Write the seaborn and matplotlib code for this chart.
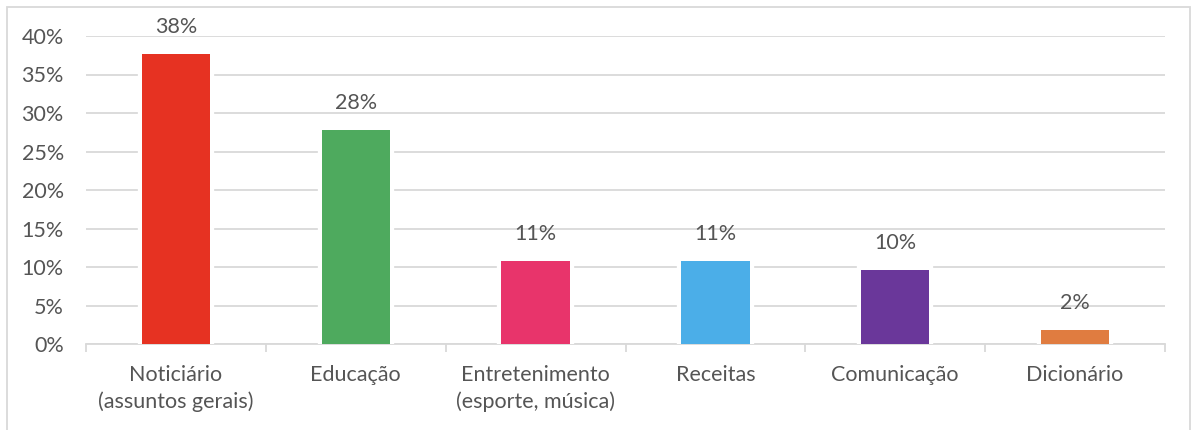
import matplotlib
matplotlib.use("Agg")
import matplotlib.pyplot as plt
import matplotlib.patheffects as pe
from matplotlib.patches import Rectangle
from matplotlib.ticker import FixedLocator, MultipleLocator
import seaborn as sns
import pandas as pd

categories = ["Noticiário\n(assuntos gerais)", "Educação", "Entretenimento\n(esporte, música)",
              "Receitas", "Comunicação", "Dicionário"]
values = [37.7, 27.8, 10.8, 10.8, 9.6, 1.8]
labels = ["38%", "28%", "11%", "11%", "10%", "2%"]
colors = ["#E63222", "#4EAA5E", "#E8346B", "#4BAEE8", "#6A379A", "#E07C40"]
yticks = [0, 5, 10, 15, 20, 25, 30, 35, 40]

sns.set_theme(style="white")
plt.rcParams["font.family"] = ["Lato", "DejaVu Sans"]
text_color = "#555555"
grid_color = "#D9D9D9"
fs = 15.5

fig = plt.figure(figsize=(11.92, 4.30), dpi=100)
ax = fig.add_axes([86/1192, 1-344/430, (1165-86)/1192, (344-36)/430])

df = pd.DataFrame({"cat": categories, "val": values})
sns.barplot(data=df, x="cat", y="val", hue="cat", palette=colors, legend=False,
            width=0.38, ax=ax, saturation=1, zorder=3)

for p in ax.patches:
    p.set_path_effects([pe.Stroke(linewidth=6, foreground="white"), pe.Normal()])
    p.set_linewidth(0)

for p, lab in zip(ax.patches, labels):
    ax.annotate(lab, (p.get_x() + p.get_width()/2, p.get_height()),
                xytext=(0, 12), textcoords="offset points", ha="center", va="bottom",
                fontsize=fs, color=text_color, annotation_clip=False, zorder=4)

ax.set_ylim(0, 40)
ax.set_xlim(-0.5, len(categories) - 0.5)
ax.yaxis.set_major_locator(FixedLocator(yticks))
ax.set_yticklabels([f"{t}%" for t in yticks])
ax.grid(axis="y", color=grid_color, linewidth=1.3, zorder=0)
ax.set_axisbelow(True)
for s in ["top", "right", "left"]:
    ax.spines[s].set_visible(False)
ax.spines["bottom"].set_color(grid_color)
ax.spines["bottom"].set_linewidth(1.3)
ax.xaxis.set_minor_locator(MultipleLocator(1, offset=0.5))
ax.tick_params(axis="x", which="major", length=0, pad=15, labelsize=fs, labelcolor=text_color)
ax.tick_params(axis="x", which="minor", length=6, width=1.3, color=grid_color, bottom=True)
ax.tick_params(axis="y", length=0, pad=16, labelsize=fs, labelcolor=text_color)
for t in ax.get_xticklabels():
    t.set_linespacing(1.4)
ax.set_xlabel("")
ax.set_ylabel("")

fig.patches.append(Rectangle((7/1192, -0.05), (1190-7)/1192, 1.05 - 7/430,
                             transform=fig.transFigure, fill=False,
                             edgecolor=grid_color, linewidth=1.3))

fig.savefig("out.png", dpi=100)
